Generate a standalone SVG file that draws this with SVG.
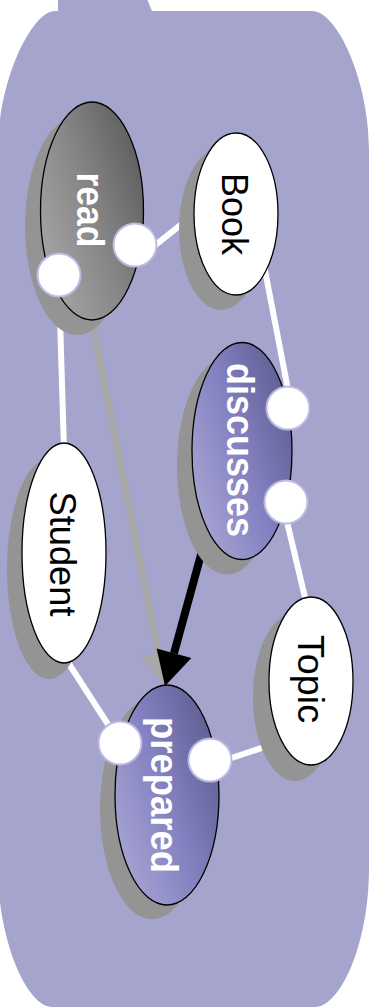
<svg xmlns="http://www.w3.org/2000/svg" width="377" height="1008" viewBox="0 0 377 1008">
  <defs>
    <linearGradient id="grayFill" x1="1" y1="0.15" x2="0" y2="0.85">
      <stop offset="0" stop-color="#5a5a5a"/>
      <stop offset="0.5" stop-color="#868686"/>
      <stop offset="1" stop-color="#a9a9a9"/>
    </linearGradient>
    <linearGradient id="blueFill" x1="1" y1="0.15" x2="0" y2="0.85">
      <stop offset="0" stop-color="#5b5a8e"/>
      <stop offset="0.5" stop-color="#8381c0"/>
      <stop offset="1" stop-color="#aaa8d3"/>
    </linearGradient>
    <marker id="headBlack" markerUnits="userSpaceOnUse" markerWidth="40" markerHeight="40" refX="0" refY="0" viewBox="-1 -20 38 40" orient="auto">
      <path d="M0,-18 L34,0 L0,18 Z" fill="#000"/>
    </marker>
    <marker id="headGray" markerUnits="userSpaceOnUse" markerWidth="40" markerHeight="40" refX="0" refY="0" viewBox="-1 -20 38 40" orient="auto">
      <path d="M0,-18 L34,0 L0,18 Z" fill="#a8a8a8"/>
    </marker>
  </defs>
  <style>
    .bg { fill: #a5a4cc; }
    .shadow { fill: #949494; }
    .plain { fill: #ffffff; stroke: #000; stroke-width: 1.3; }
    .gray { fill: url(#grayFill); stroke: #000; stroke-width: 1.3; }
    .blue { fill: url(#blueFill); stroke: #000; stroke-width: 1.3; }
    .port { fill: #ffffff; stroke: #bcb9e4; stroke-width: 2; }
    .link { stroke: #ffffff; stroke-width: 6; fill: none; }
    .lblDark { font-family: "Liberation Sans", Arial, sans-serif; font-size: 36px; fill: #000; text-anchor: middle; }
    .lblLight { font-family: "Liberation Sans", Arial, sans-serif; font-size: 38px; font-weight: bold; fill: #ffffff; text-anchor: middle; }
  </style>

  <!-- container -->
  <path class="bg" d="M55,11 L58,11 L58,-1 L147,-1 L152,11 L312,11 C337,11 369,80 369,150 L369,868 C369,945 340,1007 315,1007 L52,1007 C27,1007 -2,940 -2,870 L-2,150 C-2,80 32,11 55,11 Z"/>

  <!-- connectors -->
  <g id="connectors">
    <line class="link" x1="145" y1="253.4" x2="200" y2="209.4"/>
    <line class="link" x1="59" y1="285" x2="64" y2="450"/>
    <line class="link" x1="263" y1="260" x2="290" y2="400"/>
    <line class="link" x1="283" y1="505" x2="308" y2="610"/>
    <line class="link" x1="60" y1="650" x2="120" y2="743"/>
    <line class="link" x1="210" y1="765" x2="295" y2="737"/>
    <line x1="89" y1="308" x2="158.3" y2="652.7" stroke="#a8a8a8" stroke-width="7" marker-end="url(#headGray)"/>
    <line x1="202" y1="551" x2="174" y2="653.2" stroke="#000" stroke-width="8" marker-end="url(#headBlack)"/>
  </g>

  <!-- nodes -->
  <g id="node-read">
    <ellipse class="shadow" cx="77" cy="226" rx="52" ry="109"/>
    <ellipse class="gray" cx="92" cy="211" rx="51.5" ry="109"/>
    <text class="lblLight" transform="translate(77,210) rotate(90)" textLength="75" lengthAdjust="spacingAndGlyphs">read</text>
  </g>
  <g id="node-book">
    <ellipse class="shadow" cx="221" cy="229" rx="42" ry="81"/>
    <ellipse class="plain" cx="236" cy="214" rx="42" ry="81"/>
    <text class="lblDark" transform="translate(222,214) rotate(90)" textLength="82" lengthAdjust="spacingAndGlyphs">Book</text>
  </g>
  <g id="node-discusses">
    <ellipse class="shadow" cx="227" cy="466" rx="50" ry="108.5"/>
    <ellipse class="blue" cx="242" cy="451" rx="50" ry="108.5"/>
    <text class="lblLight" transform="translate(227,450) rotate(90)" textLength="174" lengthAdjust="spacingAndGlyphs">discusses</text>
  </g>
  <g id="node-student">
    <ellipse class="shadow" cx="49" cy="569" rx="42" ry="110"/>
    <ellipse class="plain" cx="64" cy="553" rx="42" ry="110"/>
    <text class="lblDark" transform="translate(50,554) rotate(90)" textLength="125" lengthAdjust="spacingAndGlyphs">Student</text>
  </g>
  <g id="node-topic">
    <ellipse class="shadow" cx="295" cy="697" rx="42" ry="84"/>
    <ellipse class="plain" cx="311" cy="681" rx="42" ry="84"/>
    <text class="lblDark" transform="translate(298,679) rotate(90)" textLength="88" lengthAdjust="spacingAndGlyphs">Topic</text>
  </g>
  <g id="node-prepared">
    <ellipse class="shadow" cx="152" cy="809" rx="52" ry="110"/>
    <ellipse class="blue" cx="167" cy="795" rx="52" ry="110"/>
    <text class="lblLight" transform="translate(151,795) rotate(90)" textLength="156" lengthAdjust="spacingAndGlyphs">prepared</text>
  </g>

  <!-- ports -->
  <g id="ports">
    <circle class="port" cx="135" cy="245" r="21.5"/>
    <circle class="port" cx="59" cy="275" r="21.5"/>
    <circle class="port" cx="288" cy="408" r="21.5"/>
    <circle class="port" cx="286" cy="502" r="21.5"/>
    <circle class="port" cx="120" cy="743" r="21.5"/>
    <circle class="port" cx="210" cy="760" r="21.5"/>
  </g>
</svg>
